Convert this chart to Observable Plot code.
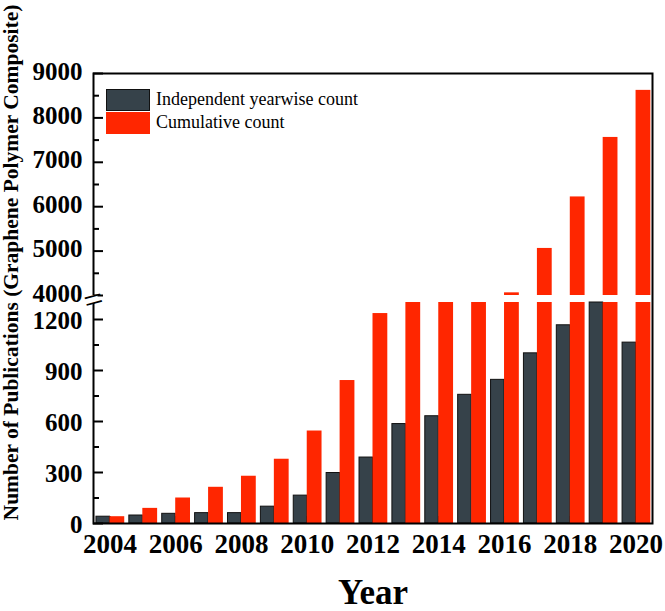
<!DOCTYPE html>
<html>
<head>
<meta charset="utf-8">
<script src="https://cdn.jsdelivr.net/npm/d3@7"></script>
<script src="https://cdn.jsdelivr.net/npm/@observablehq/plot@0.6"></script>
<style>
  body { margin: 0; background: #fff; }
  #wrap { position: relative; width: 665px; height: 611px; }
  .legend { position: absolute; left: 106px; top: 88px; font-family: "Liberation Serif", "Times New Roman", serif; font-size: 18px; color: #000; }
  .row { display: flex; align-items: center; height: 23px; }
  .sw { width: 44px; height: 22px; margin-right: 6px; box-sizing: border-box; }
</style>
</head>
<body>
<div id="wrap"></div>
<script>
// ---- data ----
const years = [2004, 2005, 2006, 2007, 2008, 2009, 2010, 2011, 2012, 2013, 2014, 2015, 2016, 2017, 2018, 2019, 2020];
const yearwise = [40, 47, 57, 61, 61, 99, 164, 297, 388, 585, 631, 757, 845, 1001, 1166, 1340, 1064];
const cumulative = [40, 89, 150, 213, 278, 378, 544, 841, 1235, 1820, 2450, 3210, 4060, 5060, 6220, 7560, 8620];
const seriesNames = ["Independent yearwise count", "Cumulative count"];
const seriesColors = ["#36424a", "#ff2600"];
const lowerTicks = [0, 300, 600, 900, 1200];
const lowerMinor = [150, 450, 750, 1050];
const upperTicks = [4000, 5000, 6000, 7000, 8000, 9000];
const upperMinor = [4500, 5500, 6500, 7500, 8500];
const xTicks = [2004, 2006, 2008, 2010, 2012, 2014, 2016, 2018, 2020];
const breakLow = 1300, breakHigh = 4000, yTop = 9000;
const xLabel = "Year";
const yLabel = "Number of Publications (Graphene Polymer Composite)";

// ---- broken-axis transform (pixel shares of the lower part, gap, upper part) ----
const lowerPx = 221, gapPx = 7, upperPx = 222;
const unit = lowerPx / breakLow;                       // px per count in lower part
const gapU = gapPx / unit;
const kUp = (upperPx / (yTop - breakHigh)) / unit;
const brk = v => v <= breakLow ? v
  : v >= breakHigh ? breakLow + gapU + (v - breakHigh) * kUp
  : breakLow + gapU * (v - breakLow) / (breakHigh - breakLow);

// tick positions in the broken space, with labels mapped back to counts
const majorTicks = [...lowerTicks, ...upperTicks];
const majorPos = majorTicks.map(brk);
const minorPos = [...lowerMinor, ...upperMinor].map(brk);
const tickLabel = new Map(majorTicks.map(v => [brk(v), String(v)]));

// ---- derived rows (values passed through the broken-axis transform) ----
const rows = [];
years.forEach((yr, i) => {
  rows.push({year: yr, s: 0, value: yearwise[i]});
  rows.push({year: yr, s: 1, value: cumulative[i]});
});
const bx1 = d => d.s === 0 ? d.year - 0.41 : d.year;
const bx2 = d => d.s === 0 ? d.year : d.year + 0.45;
const lower = rows.map(d => ({...d, y1: 0, y2: Math.min(d.value, breakLow)}));
const upper = rows.filter(d => d.value > breakHigh).map(d => ({...d, y1: brk(breakHigh), y2: brk(d.value)}));

const font = '"Liberation Serif", "Times New Roman", serif';
const mid = brk((breakLow + breakHigh) / 2);

const chart = Plot.plot({
  width: 665,
  height: 611,
  marginLeft: 93,
  marginRight: 13,
  marginTop: 73,
  marginBottom: 88,
  style: {fontFamily: font, fontSize: "26px", fontWeight: "bold", background: "white", color: "black"},
  x: {domain: [years[0] - 0.5, years[years.length - 1] + 0.5]},
  y: {domain: [0, brk(yTop)]},
  marks: [
    Plot.axisX({ticks: xTicks, tickSize: -7, fill: "none", stroke: "black", strokeWidth: 1.5}),
    Plot.axisX({ticks: xTicks, tickSize: 0, tickPadding: 10, tickFormat: d => String(d), fontSize: 27, fontWeight: "bold", label: null}),
    Plot.rect(lower.filter(d => d.s === 0), {x1: bx1, x2: bx2, y1: "y1", y2: "y2", fill: seriesColors[0], stroke: "#111", strokeWidth: 1}),
    Plot.rect(lower.filter(d => d.s === 1), {x1: bx1, x2: bx2, y1: "y1", y2: "y2", fill: seriesColors[1]}),
    Plot.rect(upper.filter(d => d.s === 1), {x1: bx1, x2: bx2, y1: "y1", y2: "y2", fill: seriesColors[1]}),
    Plot.axisY({ticks: majorPos, tickSize: -10, fill: "none", stroke: "black", strokeWidth: 2}),
    Plot.axisY({ticks: minorPos, tickSize: -6, fill: "none", stroke: "black", strokeWidth: 2}),
    Plot.axisY({ticks: lowerTicks.map(brk), tickSize: 0, tickPadding: 11, dy: 1, tickFormat: t => tickLabel.get(t), fontSize: 25, fontWeight: "bold", label: null}),
    Plot.axisY({ticks: upperTicks.map(brk), tickSize: 0, tickPadding: 11, dy: -2, tickFormat: t => tickLabel.get(t), fontSize: 25, fontWeight: "bold", label: null}),
    Plot.frame({stroke: "black", strokeWidth: 2}),
    Plot.dot([mid], {y: d => d, frameAnchor: "left", symbol: "square", r: 4.5, fill: "white", stroke: "none"}),
    Plot.text(["="], {y: () => mid, frameAnchor: "left", textAnchor: "middle", rotate: -15, fontSize: 34, fontWeight: "normal", lineAnchor: "middle", dy: 1}),
    Plot.text([yLabel], {frameAnchor: "left", textAnchor: "middle", rotate: -90, dx: -82, dy: -36, fontSize: 21.5, fontWeight: "bold", lineAnchor: "middle"}),
    Plot.text([xLabel], {frameAnchor: "bottom", dy: 69, fontSize: 35, fontWeight: "bold", lineAnchor: "middle"})
  ]
});

const wrap = document.getElementById("wrap");
wrap.appendChild(chart);

// legend overlay
const legend = document.createElement("div");
legend.className = "legend";
seriesNames.forEach((name, i) => {
  const row = document.createElement("div");
  row.className = "row";
  const sw = document.createElement("div");
  sw.className = "sw";
  sw.style.background = seriesColors[i];
  if (i === 0) sw.style.border = "1.5px solid #111";
  const lab = document.createElement("span");
  lab.textContent = name;
  row.appendChild(sw);
  row.appendChild(lab);
  legend.appendChild(row);
});
wrap.appendChild(legend);
</script>
</body>
</html>
